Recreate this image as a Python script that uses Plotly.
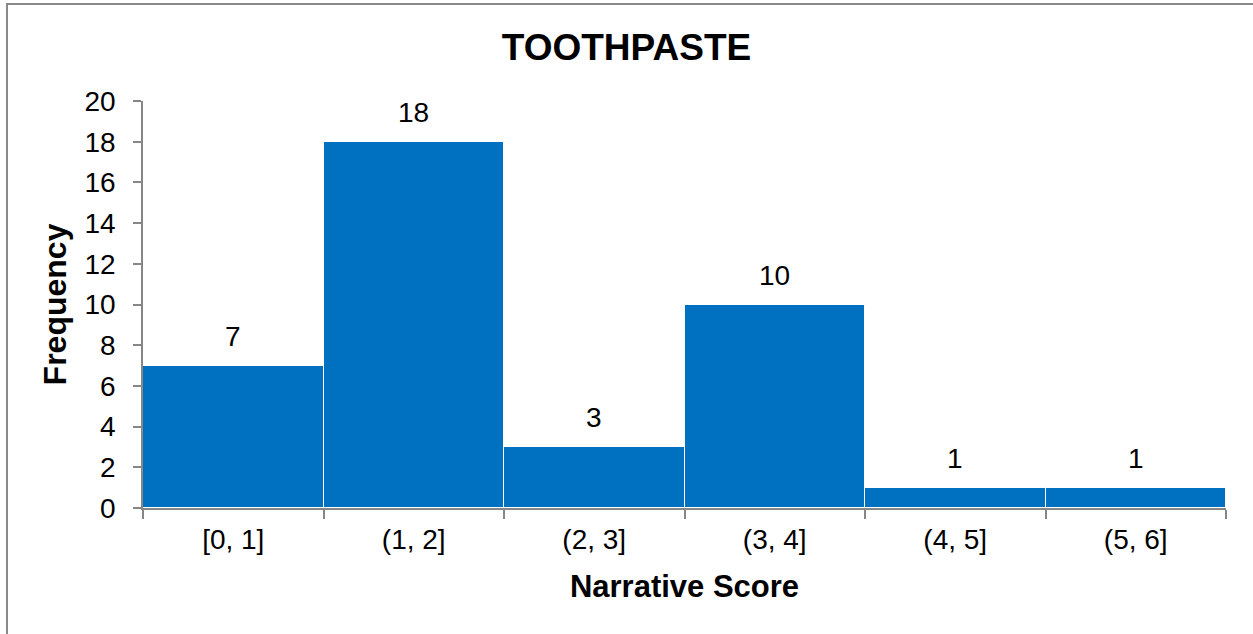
import plotly.graph_objects as go

# Histogram of narrative scores for the toothpaste ads
bins = ["[0, 1]", "(1, 2]", "(2, 3]", "(3, 4]", "(4, 5]", "(5, 6]"]
frequency = [7, 18, 3, 10, 1, 1]

BAR_BLUE = "#0070C0"
AXIS_GRAY = "#868686"
FONT = "Liberation Sans, Arial, sans-serif"

W, H = 1253, 634
ML, MR, MT, MB = 143, 27, 101, 126
plot_w = W - ML - MR
plot_h = H - MT - MB

fig = go.Figure(
    go.Bar(
        x=bins,
        y=frequency,
        marker=dict(color=BAR_BLUE, line=dict(color="white", width=1)),
        hoverinfo="x+y",
    )
)

# value labels above each bar
for b, f in zip(bins, frequency):
    fig.add_annotation(
        x=b, y=f, text=str(f), showarrow=False,
        yanchor="bottom", yshift=12,
        font=dict(family=FONT, size=28, color="black"),
    )

# outer chart frame (top and left edges visible)
def px_x(p):
    return (p - ML) / plot_w

def px_y(p):
    return (H - MB - p) / plot_h

fig.add_shape(type="rect", xref="paper", yref="paper",
              x0=px_x(7), x1=px_x(W + 20), y0=px_y(H + 20), y1=px_y(4),
              line=dict(color="#898989", width=2), fillcolor="rgba(0,0,0,0)",
              layer="below")

fig.update_layout(
    width=W, height=H,
    margin=dict(l=ML, r=MR, t=MT, b=MB, autoexpand=False),
    paper_bgcolor="white", plot_bgcolor="white",
    bargap=0,
    showlegend=False,
    font=dict(family=FONT, color="black"),
    title=dict(
        text="<b>TOOTHPASTE</b>",
        x=0.5, xref="container", xanchor="center",
        y=1 - 47 / H, yref="container", yanchor="middle",
        font=dict(family=FONT, size=37, color="black"),
    ),
    xaxis=dict(
        type="category",
        showline=True, linecolor=AXIS_GRAY, linewidth=1.5,
        ticks="outside", tickson="boundaries", ticklen=9,
        tickcolor=AXIS_GRAY, tickwidth=1.5,
        tickfont=dict(family=FONT, size=28, color="black"),
        ticklabelstandoff=6,
        showgrid=False, zeroline=False,
        title=dict(text="<b>Narrative Score</b>", standoff=21,
                   font=dict(family=FONT, size=31, color="black")),
    ),
    yaxis=dict(
        range=[0, 20], dtick=2, tick0=0,
        showline=True, linecolor=AXIS_GRAY, linewidth=1.5,
        ticks="outside", ticklen=8, tickcolor=AXIS_GRAY, tickwidth=1.5,
        tickfont=dict(family=FONT, size=28, color="black"),
        ticklabelstandoff=12,
        showgrid=False, zeroline=False,
        title=dict(text="<b>Frequency</b>", standoff=8,
                   font=dict(family=FONT, size=32, color="black")),
    ),
)

fig.write_html("out.html")
